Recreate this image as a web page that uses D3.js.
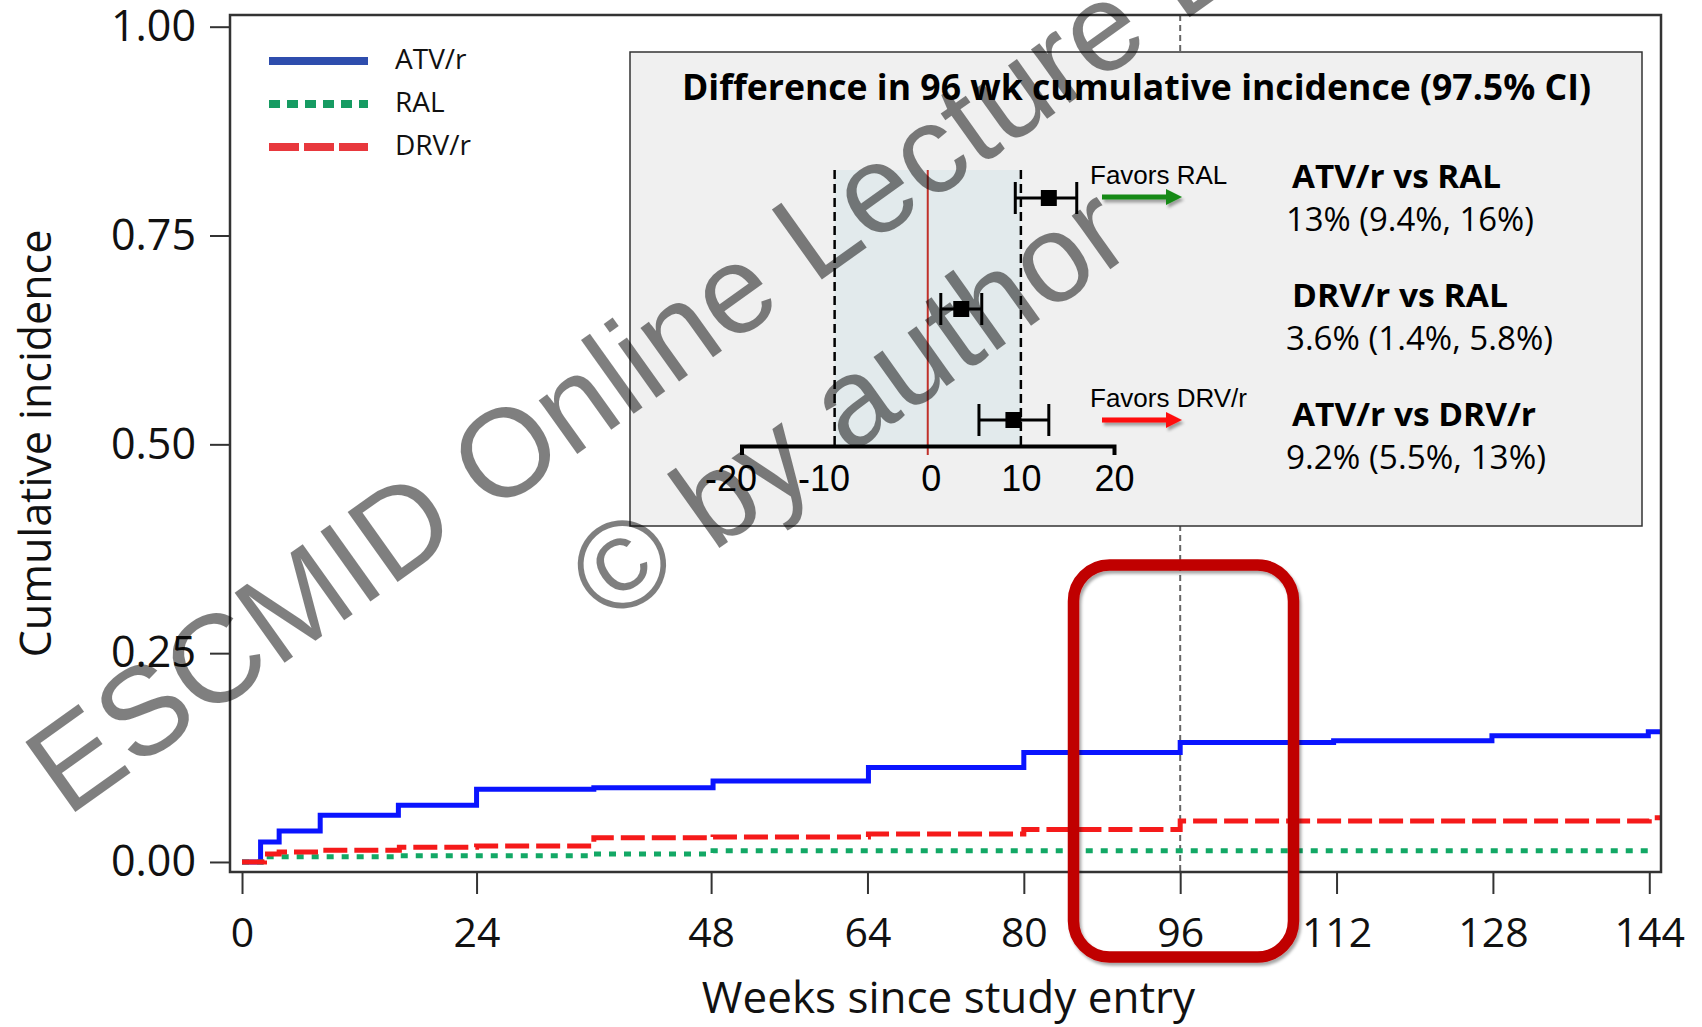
<!DOCTYPE html>
<html>
<head>
<meta charset="utf-8">
<script src="https://cdn.jsdelivr.net/npm/d3@7"></script>
<style>
  body { margin: 0; background: #fff; }
  svg { display: block; font-family: "Open Sans", sans-serif; }
</style>
</head>
<body>
<div id="chart"></div>
<script>
const width = 1702, height = 1027;

// cumulative incidence step curves (weeks, proportion)
const atvWeeks  = [0, 1.9, 3.8, 8.0, 16.0, 24.0, 36.0, 48.2, 64.1, 80.0, 96.0, 111.7, 127.9, 143.9, 145.1];
const atvValues = [0, 0.024, 0.037, 0.056, 0.068, 0.087, 0.089, 0.097, 0.113, 0.131, 0.143, 0.145, 0.151, 0.156, 0.156];
const ralWeeks  = [0, 2.5, 15.6, 36.0, 48.2, 144.0];
const ralValues = [0, 0.0064, 0.0075, 0.0096, 0.0135, 0.0144];
const drvWeeks  = [0, 2.3, 3.8, 8.0, 16.1, 24.0, 36.0, 48.2, 64.1, 80.0, 96.0, 144.0, 145.1];
const drvValues = [0, 0.0096, 0.012, 0.014, 0.0176, 0.019, 0.029, 0.030, 0.0335, 0.039, 0.049, 0.053, 0.053];

const xTicks = [0, 24, 48, 64, 80, 96, 112, 128, 144];
const yTicks = [0, 0.25, 0.5, 0.75, 1];
const legendLabels = ["ATV/r", "RAL", "DRV/r"];

// inset: difference in 96 wk cumulative incidence
const compLabels = ["ATV/r vs RAL", "DRV/r vs RAL", "ATV/r vs DRV/r"];
const compEst = [13, 3.6, 9.2];
const compLo  = [9.4, 1.4, 5.5];
const compHi  = [16, 5.8, 13];
const compText = ["13% (9.4%, 16%)", "3.6% (1.4%, 5.8%)", "9.2% (5.5%, 13%)"];
const diffTicks = [-20, -10, 0, 10, 20];

const svg = d3.select("#chart").append("svg")
  .attr("width", width).attr("height", height);

const defs = svg.append("defs");
defs.append("filter").attr("id", "shadow")
  .attr("x", "-20%").attr("y", "-30%").attr("width", "140%").attr("height", "160%")
  .append("feDropShadow")
  .attr("dx", 2).attr("dy", 3).attr("stdDeviation", 1.5)
  .attr("flood-color", "#000").attr("flood-opacity", 0.35);

const frame = {left: 230, right: 1661, top: 15, bottom: 872};

const x = d3.scaleLinear().domain([-1.23, 145.2]).range([frame.left, frame.right]);
const y = d3.scaleLinear().domain([-0.012, 1.014]).range([frame.bottom, frame.top]);

// y axis
svg.append("g")
  .attr("transform", `translate(${frame.left},0)`)
  .call(d3.axisLeft(y).tickValues(yTicks).tickFormat(d3.format(".2f")).tickSize(20).tickPadding(14))
  .call(g => g.select(".domain").remove())
  .call(g => g.selectAll("line").attr("stroke", "#333").attr("stroke-width", 2))
  .call(g => g.selectAll("text").attr("font-size", 43).attr("fill", "#111")
    .attr("font-family", "Open Sans"));

// x axis
svg.append("g")
  .attr("transform", `translate(0,${frame.bottom})`)
  .call(d3.axisBottom(x).tickValues(xTicks).tickSize(22).tickPadding(24))
  .call(g => g.select(".domain").remove())
  .call(g => g.selectAll("line").attr("stroke", "#333").attr("stroke-width", 2))
  .call(g => g.selectAll("text").attr("font-size", 41).attr("fill", "#111")
    .attr("font-family", "Open Sans"));

// axis titles
svg.append("text")
  .attr("x", (frame.left + frame.right) / 2 + 3).attr("y", 1013)
  .attr("text-anchor", "middle").attr("font-size", 44).attr("fill", "#111")
  .text("Weeks since study entry");

svg.append("text")
  .attr("transform", `translate(51,${(frame.top + frame.bottom) / 2}) rotate(-90)`)
  .attr("text-anchor", "middle").attr("font-size", 43).attr("fill", "#111")
  .text("Cumulative incidence");

// week 96 reference line
svg.append("line")
  .attr("x1", x(96)).attr("x2", x(96))
  .attr("y1", frame.top).attr("y2", frame.bottom)
  .attr("stroke", "#666").attr("stroke-width", 2).attr("stroke-dasharray", "6,4");

// curves
const line = d3.line()
  .x(d => x(d[0]))
  .y(d => y(d[1]))
  .curve(d3.curveStepAfter);

const series = [
  {weeks: atvWeeks, values: atvValues, color: "#0a14ff", dash: null},
  {weeks: ralWeeks, values: ralValues, color: "#12a865", dash: "7,8"},
  {weeks: drvWeeks, values: drvValues, color: "#f51a1a", dash: "24,7"}
];

series.forEach(s => {
  svg.append("path")
    .datum(d3.zip(s.weeks, s.values))
    .attr("d", line)
    .attr("fill", "none")
    .attr("stroke", s.color)
    .attr("stroke-width", 5)
    .attr("stroke-dasharray", s.dash);
});

// frame
svg.append("rect")
  .attr("x", frame.left).attr("y", frame.top)
  .attr("width", frame.right - frame.left).attr("height", frame.bottom - frame.top)
  .attr("fill", "none").attr("stroke", "#333").attr("stroke-width", 2.5);

// legend
const legendColors = ["#2e4dad", "#169b62", "#e8383d"];
const legendDash = [null, "11,7", "30,5"];
const ly = d3.scalePoint().domain(legendLabels).range([61, 147]);
const legend = svg.append("g");
legendLabels.forEach((lab, i) => {
  legend.append("line")
    .attr("x1", 269).attr("x2", 368)
    .attr("y1", ly(lab)).attr("y2", ly(lab))
    .attr("stroke", legendColors[i]).attr("stroke-width", 8)
    .attr("stroke-dasharray", legendDash[i]);
  legend.append("text")
    .attr("x", 395).attr("y", ly(lab) + 8)
    .attr("font-size", 28).attr("fill", "#111")
    .text(lab);
});

// ---- inset forest plot ----
const inset = svg.append("g");
inset.append("rect")
  .attr("x", 630).attr("y", 52).attr("width", 1012).attr("height", 474)
  .attr("fill", "#f0f0f0").attr("stroke", "#333").attr("stroke-width", 1.5);

inset.append("text")
  .attr("x", 682).attr("y", 100)
  .attr("font-size", 36).attr("font-weight", "bold").attr("fill", "#000")
  .attr("textLength", 909).attr("lengthAdjust", "spacingAndGlyphs")
  .text("Difference in 96 wk cumulative incidence (97.5% CI)");

const fx = d3.scaleLinear().domain([-20, 20]).range([741.5, 1114]);
const fy = d3.scalePoint().domain(compLabels).range([198, 420]);
const axisY = 446, shadeTop = 170;

inset.append("rect")
  .attr("x", fx(-10)).attr("y", shadeTop)
  .attr("width", fx(10) - fx(-10)).attr("height", axisY - shadeTop)
  .attr("fill", "#e2eaec");

[-10, 10].forEach(v => {
  inset.append("line")
    .attr("x1", fx(v)).attr("x2", fx(v))
    .attr("y1", shadeTop).attr("y2", axisY)
    .attr("stroke", "#000").attr("stroke-width", 2.5).attr("stroke-dasharray", "9,5");
});

inset.append("line")
  .attr("x1", fx(0)).attr("x2", fx(0))
  .attr("y1", shadeTop).attr("y2", axisY + 9)
  .attr("stroke", "#c0302a").attr("stroke-width", 2);

inset.append("g")
  .attr("transform", `translate(0,${axisY})`)
  .call(d3.axisBottom(fx).tickValues(diffTicks).tickFormat(d => String(d))
    .tickSizeInner(0).tickSizeOuter(9).tickPadding(19))
  .call(g => g.select(".domain").attr("stroke", "#000").attr("stroke-width", 4))
  .call(g => g.selectAll("text").attr("font-size", 36).attr("fill", "#000")
    .attr("font-family", "Liberation Sans, Arial, sans-serif")
    .attr("dx", d => d < 0 ? -11 : (d === 0 ? 3 : 0)));

// error bars
compLabels.forEach((lab, i) => {
  const cy = fy(lab);
  const g = inset.append("g").attr("stroke", "#000").attr("stroke-width", 3);
  g.append("line").attr("x1", fx(compLo[i])).attr("x2", fx(compHi[i])).attr("y1", cy).attr("y2", cy);
  g.append("line").attr("x1", fx(compLo[i])).attr("x2", fx(compLo[i])).attr("y1", cy - 16).attr("y2", cy + 16);
  g.append("line").attr("x1", fx(compHi[i])).attr("x2", fx(compHi[i])).attr("y1", cy - 16).attr("y2", cy + 16);
  inset.append("rect")
    .attr("x", fx(compEst[i]) - 8).attr("y", cy - 8)
    .attr("width", 16).attr("height", 16).attr("fill", "#000");
});

// favors annotations
const favors = [
  {text: "Favors RAL", y: 184, arrowY: 197, color: "#138a13"},
  {text: "Favors DRV/r", y: 407, arrowY: 420, color: "#ff0a0a"}
];
favors.forEach(f => {
  inset.append("text")
    .attr("x", 1090).attr("y", f.y)
    .attr("font-family", "Liberation Sans, Arial, sans-serif")
    .attr("font-size", 26).attr("fill", "#000")
    .text(f.text);
  const a = inset.append("g").attr("filter", "url(#shadow)");
  a.append("line")
    .attr("x1", 1102).attr("x2", 1168).attr("y1", f.arrowY).attr("y2", f.arrowY)
    .attr("stroke", f.color).attr("stroke-width", 5);
  a.append("path")
    .attr("d", `M1166,${f.arrowY - 8}L1182,${f.arrowY}L1166,${f.arrowY + 8}Z`)
    .attr("fill", f.color);
});

// comparison labels
const labelY = d3.scalePoint().domain(compLabels).range([188, 426]);
const valueY = d3.scalePoint().domain(compLabels).range([231, 469]);
const labelLen = [209, 216, 244];
const valueLen = [248, 267, 260];
compLabels.forEach((lab, i) => {
  inset.append("text")
    .attr("x", 1292).attr("y", labelY(lab))
    .attr("font-size", 33).attr("font-weight", "bold").attr("fill", "#000")
    .attr("textLength", labelLen[i]).attr("lengthAdjust", "spacingAndGlyphs")
    .text(lab);
  inset.append("text")
    .attr("x", 1286).attr("y", valueY(lab))
    .attr("font-size", 32).attr("fill", "#000")
    .attr("textLength", valueLen[i]).attr("lengthAdjust", "spacingAndGlyphs")
    .text(compText[i]);
});

// highlight box around week 96
svg.append("rect")
  .attr("x", 1073.5).attr("y", 565).attr("width", 220).attr("height", 392)
  .attr("rx", 36).attr("ry", 36)
  .attr("fill", "none").attr("stroke", "#c00000").attr("stroke-width", 11.5)
  .attr("filter", "url(#shadow)");

// watermark
const wm = svg.append("g")
  .attr("transform", "translate(67,818) rotate(-35.5)")
  .attr("font-family", "Liberation Sans, Arial, sans-serif")
  .attr("font-size", 125).attr("fill", "#000").attr("fill-opacity", 0.5);
wm.append("text").attr("x", 0).attr("y", 0).text("ESCMID Online Lecture Library");
wm.append("text").attr("x", 553).attr("y", 159).text("© by author");
</script>
</body>
</html>
